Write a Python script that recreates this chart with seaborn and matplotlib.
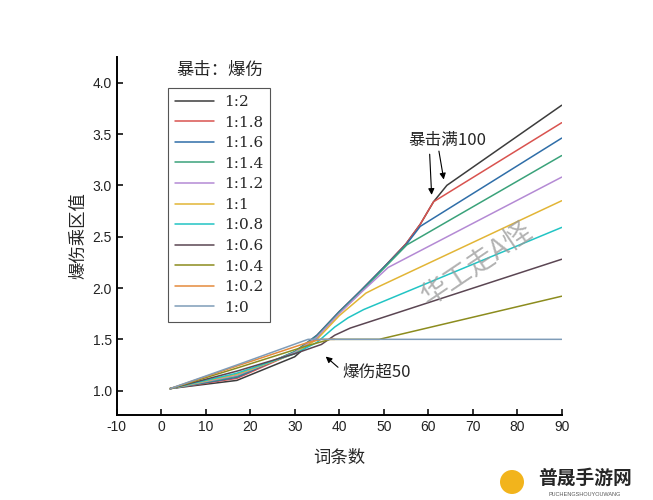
import numpy as np
import pandas as pd
import matplotlib
matplotlib.use('Agg')
import matplotlib.pyplot as plt
import seaborn as sns
from matplotlib.lines import Line2D
from matplotlib.patches import Circle

# legend order: 暴击:爆伤 ratio
ratios = ['1:2', '1:1.8', '1:1.6', '1:1.4', '1:1.2', '1:1',
          '1:0.8', '1:0.6', '1:0.4', '1:0.2', '1:0']
colors = ['#3c3c3c', '#d9534f', '#2f6ea8', '#3aa27a', '#b48ad4', '#e2b536',
          '#22c4c4', '#5b4653', '#8c8c1e', '#e48a3c', '#7f9cb8']

# values (x = 词条数, y = 爆伤乘区值)
x_1_2 = [2, 17, 30, 35, 40, 45, 50, 55, 58.2, 61.2, 64.2, 90]
y_1_2 = [1.02, 1.10, 1.33, 1.52, 1.76, 1.98, 2.20, 2.43, 2.62, 2.84, 3.00, 3.78]
x_1_18 = [2, 17, 30, 35, 40, 45, 50, 55, 58.2, 61.2, 90]
y_1_18 = [1.02, 1.12, 1.37, 1.54, 1.77, 1.98, 2.20, 2.43, 2.62, 2.84, 3.61]
x_1_16 = [2, 17, 30, 35, 40, 45, 50, 55, 58.2, 90]
y_1_16 = [1.02, 1.13, 1.38, 1.54, 1.77, 1.98, 2.20, 2.42, 2.60, 3.46]
x_1_14 = [2, 17, 30, 35, 40, 45, 50, 55.2, 90]
y_1_14 = [1.02, 1.14, 1.38, 1.53, 1.76, 1.97, 2.19, 2.42, 3.29]
x_1_12 = [2, 17, 30, 35, 40, 45, 48.5, 51, 90]
y_1_12 = [1.02, 1.15, 1.37, 1.52, 1.75, 1.96, 2.10, 2.20, 3.08]
x_1_1 = [2, 17, 30, 35, 40, 46, 49.2, 90]
y_1_1 = [1.02, 1.16, 1.36, 1.50, 1.73, 1.95, 2.02, 2.85]
x_1_08 = [2, 17, 30, 35, 39, 42, 45.5, 90]
y_1_08 = [1.02, 1.17, 1.36, 1.47, 1.62, 1.71, 1.79, 2.59]
x_1_06 = [2, 17, 30, 36, 39, 42.5, 90]
y_1_06 = [1.02, 1.19, 1.36, 1.45, 1.54, 1.61, 2.28]
x_1_04 = [2, 17, 33, 38, 49, 90]
y_1_04 = [1.02, 1.22, 1.44, 1.50, 1.50, 1.92]
# after reaching 1.5 this one lies under the 1:0 line
x_1_02 = [2, 17, 33, 36, 39]
y_1_02 = [1.02, 1.24, 1.47, 1.50, 1.50]
x_1_0 = [2, 17, 33, 90]
y_1_0 = [1.02, 1.25, 1.50, 1.50]

series_x = [x_1_2, x_1_18, x_1_16, x_1_14, x_1_12, x_1_1,
            x_1_08, x_1_06, x_1_04, x_1_02, x_1_0]
series_y = [y_1_2, y_1_18, y_1_16, y_1_14, y_1_12, y_1_1,
            y_1_08, y_1_06, y_1_04, y_1_02, y_1_0]

rows = []
for lab, xs, ys in zip(ratios, series_x, series_y):
    for xv, yv in zip(xs, ys):
        rows.append((lab, xv, yv))
df = pd.DataFrame(rows, columns=['ratio', 'n', 'mult'])

sns.set_style('white')
plt.rcParams['font.family'] = ['Liberation Sans', 'Noto Sans CJK SC']
plt.rcParams['axes.unicode_minus'] = False

fig = plt.figure(figsize=(6.53, 5), dpi=100)
ax = fig.add_axes([0.1787, 0.17, 0.6815, 0.716])

palette = dict(zip(ratios, colors))
sns.lineplot(data=df, x='n', y='mult', hue='ratio', hue_order=ratios,
             palette=palette, sort=False, estimator=None, linewidth=1.1,
             legend=False, ax=ax)

ax.set_xlim(-10, 90)
ax.set_ylim(0.763, 4.25)
ax.set_xticks(range(-10, 91, 10))
ax.set_yticks([1.0, 1.5, 2.0, 2.5, 3.0, 3.5, 4.0])
ax.set_yticklabels([f'{v:.1f}' for v in [1.0, 1.5, 2.0, 2.5, 3.0, 3.5, 4.0]])
ax.tick_params(direction='in', length=4, width=1.3, labelsize=10,
               colors='#222222', bottom=True, left=True)
for side in ['top', 'right']:
    ax.spines[side].set_visible(False)
for side in ['left', 'bottom']:
    ax.spines[side].set_linewidth(1.4)
    ax.spines[side].set_color('black')

ax.set_xlabel('词条数', fontsize=12.5, family=['Noto Sans CJK SC'], labelpad=11)
ax.set_ylabel('爆伤乘区值', fontsize=12.5, family=['Noto Sans CJK SC'], labelpad=4)

# legend
handles = [Line2D([], [], color=c, linewidth=1.1) for c in colors]
leg = ax.legend(handles, ratios, loc='upper left',
                bbox_to_anchor=(0.115, 0.913), borderaxespad=0,
                frameon=True, fancybox=False,
                edgecolor='#555555', framealpha=1, borderpad=0.45,
                handlelength=2.6, handletextpad=0.6, labelspacing=0.43,
                prop={'family': 'DejaVu Serif', 'size': 11})
leg.get_frame().set_linewidth(0.8)
ax.text(0.232, 0.965, '暴击：爆伤', transform=ax.transAxes, ha='center',
        va='center', fontsize=12.5, family=['Noto Sans CJK SC'])

# annotations
ax.annotate('', xy=(60.8, 2.88), xytext=(60.3, 3.33),
            arrowprops=dict(arrowstyle='-|>', color='black', lw=0.8,
                            mutation_scale=9))
ax.annotate('', xy=(63.6, 3.03), xytext=(62.3, 3.36),
            arrowprops=dict(arrowstyle='-|>', color='black', lw=0.8,
                            mutation_scale=9))
ax.text(64.4, 3.44, '暴击满100', ha='center', va='center', fontsize=12,
        family=['Noto Sans CJK SC'])
ax.annotate('', xy=(36.5, 1.35), xytext=(40.2, 1.21),
            arrowprops=dict(arrowstyle='-|>', color='black', lw=0.8,
                            mutation_scale=9))
ax.text(48.4, 1.177, '爆伤超50', ha='center', va='center', fontsize=12,
        family=['Noto Sans CJK SC'])

# watermark
ax.text(71.0, 2.24, '华工走A怪', ha='center', va='center', fontsize=20,
        rotation=34, color='#9a9a9a', alpha=0.75, family=['Noto Sans CJK SC'])

# site logo bottom right
fig.patches.append(Circle((5.12, 0.18), 0.12, transform=fig.dpi_scale_trans,
                          facecolor='#f2b41c', edgecolor='none'))
fig.text(585 / 653, 22 / 500, '普晟手游网', ha='center', va='center',
         fontsize=13.5, fontweight='bold', family=['Noto Sans CJK SC'])
fig.text(585 / 653, 6 / 500, 'PUCHENGSHOUYOUWANG', ha='center', va='center',
         fontsize=4, color='#555555')

fig.savefig('out.png', dpi=100)
